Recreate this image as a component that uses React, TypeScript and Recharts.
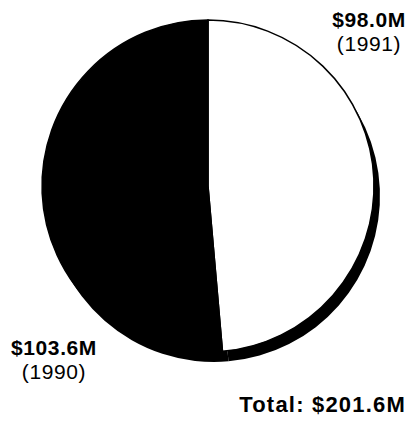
import { PieChart, Pie, Cell } from "recharts";

const years = ["1991", "1990"];
const revenue = [98.0, 103.6];
const total = 201.6;
const sliceColors = ["#ffffff", "#000000"];

const data = years.map((year, i) => ({ year, value: revenue[i] }));

const fmt = (v: number) => `$${v.toFixed(1)}M`;

const labelStyle: React.CSSProperties = {
  position: "absolute",
  fontFamily: "'Liberation Sans', Arial, sans-serif",
  fontSize: 21,
  color: "#000",
  textAlign: "center",
  lineHeight: "24px",
  letterSpacing: 0.6,
  whiteSpace: "nowrap",
};

export default function App() {
  return (
    <div style={{ position: "fixed", left: 0, top: 0, width: 409, height: 421, background: "#fff", overflow: "hidden" }}>
      <PieChart width={409} height={421} margin={{ top: 0, right: 0, bottom: 0, left: 0 }}>
        {/* drop shadow behind the disk */}
        <Pie
          data={data}
          dataKey="value"
          cx={214}
          cy={196}
          outerRadius={166}
          startAngle={90}
          endAngle={-270}
          stroke="none"
          isAnimationActive={false}
        >
          {data.map((d) => (
            <Cell key={d.year} fill="#000" />
          ))}
        </Pie>
        <Pie
          data={data}
          dataKey="value"
          cx={208}
          cy={186}
          outerRadius={166}
          startAngle={90}
          endAngle={-270}
          stroke="#000"
          strokeWidth={1.5}
          isAnimationActive={false}
        >
          {data.map((d, i) => (
            <Cell key={d.year} fill={sliceColors[i]} />
          ))}
        </Pie>
      </PieChart>
      <div style={{ ...labelStyle, left: 319, top: 8, width: 100 }}>
        <div style={{ fontWeight: 700 }}>{fmt(revenue[0])}</div>
        <div>({years[0]})</div>
      </div>
      <div style={{ ...labelStyle, left: 4, top: 336, width: 100 }}>
        <div style={{ fontWeight: 700 }}>{fmt(revenue[1])}</div>
        <div>({years[1]})</div>
      </div>
      <div style={{ ...labelStyle, right: 3, top: 393, fontSize: 22, letterSpacing: 1.2, fontWeight: 700, textAlign: "right" }}>
        Total: {fmt(total)}
      </div>
    </div>
  );
}
